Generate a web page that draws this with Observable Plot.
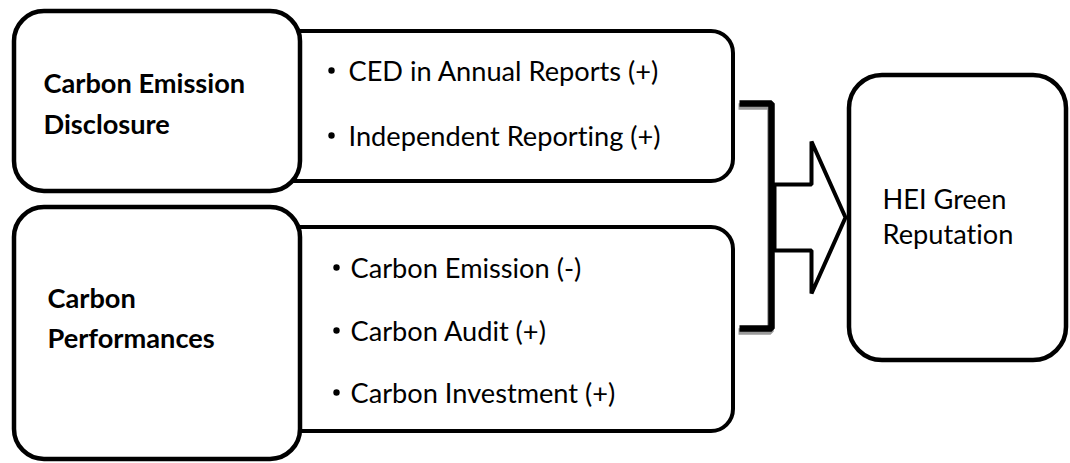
<!DOCTYPE html>
<html>
<head>
<meta charset="utf-8">
<script src="https://cdn.jsdelivr.net/npm/d3@7"></script>
<script src="https://cdn.jsdelivr.net/npm/@observablehq/plot@0.6"></script>
<style>
  html, body { margin: 0; padding: 0; background: #fff; }
  #chart svg { display: block; }
  #chart text { font-variant-ligatures: none; font-feature-settings: "liga" 0, "clig" 0; }
</style>
</head>
<body>
<div id="chart"></div>
<script>
// ---- content ----
const constructs = ["Carbon Emission Disclosure", "Carbon Performances"];
const constructLines = [["Carbon Emission", "Disclosure"], ["Carbon", "Performances"]];
const indicators = [
  ["CED in Annual Reports (+)", "Independent Reporting (+)"],
  ["Carbon Emission (-)", "Carbon Audit (+)", "Carbon Investment (+)"]
];
const outcomeLines = ["HEI Green", "Reputation"];

// ---- diagram geometry (pixel frame of the 1070 x 463 canvas) ----
const W = 1070, H = 463;
const leftBoxes   = [{x1: 14, x2: 300, y1: 11, y2: 191}, {x1: 14, x2: 300, y1: 207, y2: 459}];
const rightBoxes  = [{x1: 270, x2: 733, y1: 31, y2: 181}, {x1: 270, x2: 733, y1: 227, y2: 431}];
const outcomeBox  = {x1: 849, x2: 1066, y1: 75, y2: 360};
const labelPos    = [{x: 43, y: [92, 133]}, {x: 47, y: [307, 347]}];
const bulletX     = [331, 336];
const itemX       = [348, 350];
const itemY       = [[80, 145], [277, 340, 402]];
const outcomeText = {x: 882, y: [208, 243]};
const bracket     = {xl: 739, xv: 771, yt: 103, yb: 328};
const arrow       = {x0: 774, xb: 811, xt: 845, ys1: 184, ys2: 250, yh1: 141, yh2: 293};

const FONT = "Lato, 'Open Sans', sans-serif";
const FS = 27.2;

// build tables
const leftRects = leftBoxes.map((b, i) => ({...b, name: constructs[i]}));
const rightRects = rightBoxes.map((b, i) => ({...b, name: constructs[i]}));
const labelRows = constructLines.flatMap((lines, i) => lines.map((t, j) => ({x: labelPos[i].x, y: labelPos[i].y[j], text: t})));
const itemRows = indicators.flatMap((items, i) => items.map((t, j) => ({bx: bulletX[i], x: itemX[i], y: itemY[i][j], text: t})));
const outcomeRows = outcomeLines.map((t, j) => ({x: outcomeText.x, y: outcomeText.y[j], text: t}));
const bracketPts = [
  {x: bracket.xl, y: bracket.yt}, {x: bracket.xv, y: bracket.yt},
  {x: bracket.xv, y: bracket.yb}, {x: bracket.xl, y: bracket.yb}
];
const arrowPts = [
  {x: arrow.x0, y: arrow.ys1}, {x: arrow.xb, y: arrow.ys1}, {x: arrow.xb, y: arrow.yh1},
  {x: arrow.xt, y: (arrow.yh1 + arrow.yh2) / 2},
  {x: arrow.xb, y: arrow.yh2}, {x: arrow.xb, y: arrow.ys2}, {x: arrow.x0, y: arrow.ys2},
  {x: arrow.x0, y: arrow.ys1}
];

const chart = Plot.plot({
  width: W,
  height: H,
  margin: 0,
  x: {domain: [0, W], range: [0, W], axis: null},
  y: {domain: [0, H], range: [0, H], axis: null},
  style: {background: "#fff"},
  marks: [
    // indicator boxes (behind)
    Plot.rect(rightRects, {x1: "x1", x2: "x2", y1: "y1", y2: "y2", rx: 22, fill: "white", stroke: "black", strokeWidth: 4}),
    // construct boxes (front)
    Plot.rect(leftRects, {x1: "x1", x2: "x2", y1: "y1", y2: "y2", rx: 30, fill: "white", stroke: "black", strokeWidth: 4.5}),
    // outcome box
    Plot.rect([outcomeBox], {x1: "x1", x2: "x2", y1: "y1", y2: "y2", rx: 33, fill: "white", stroke: "black", strokeWidth: 4.5}),
    // bracket shadow + bracket
    Plot.line(bracketPts, {x: "x", y: "y", stroke: "#9a9a9a", strokeWidth: 6.5, strokeLinejoin: "miter", strokeLinecap: "butt", dx: -1, dy: 3, curve: "linear"}),
    Plot.line(bracketPts, {x: "x", y: "y", stroke: "black", strokeWidth: 6.5, strokeLinejoin: "miter", strokeLinecap: "butt", curve: "linear"}),
    // block arrow
    Plot.line(arrowPts, {x: "x", y: "y", fill: "white", stroke: "black", strokeWidth: 4, strokeLinejoin: "miter", curve: "linear"}),
    // construct labels
    Plot.text(labelRows, {x: "x", y: "y", text: "text", textAnchor: "start", lineAnchor: "bottom", fontSize: FS, fontWeight: "bold", fontFamily: FONT, fill: "black"}),
    // bullets + indicators
    Plot.dot(itemRows, {x: "bx", y: "y", r: 3.2, dy: -10, fill: "black", stroke: "none"}),
    Plot.text(itemRows, {x: "x", y: "y", text: "text", textAnchor: "start", lineAnchor: "bottom", fontSize: FS, fontFamily: FONT, fill: "black"}),
    // outcome label
    Plot.text(outcomeRows, {x: "x", y: "y", text: "text", textAnchor: "start", lineAnchor: "bottom", fontSize: FS, fontFamily: FONT, fill: "black"})
  ]
});
document.getElementById("chart").appendChild(chart);
</script>
</body>
</html>
